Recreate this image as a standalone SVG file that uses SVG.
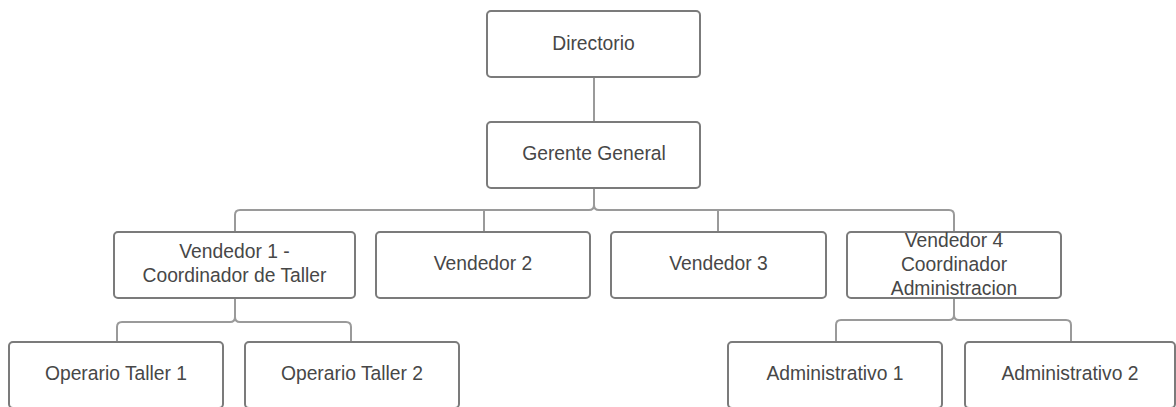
<svg xmlns="http://www.w3.org/2000/svg" width="1176" height="407" viewBox="0 0 1176 407">
<style>
.box{fill:#fff;stroke:#7b7b7b;stroke-width:2}
.t{font-family:"Liberation Sans",Arial,sans-serif;font-size:19.3px;fill:#474747;text-anchor:middle}
.c{fill:none;stroke:#9a9a9a;stroke-width:2}
</style>
<rect width="1176" height="407" fill="#fff"/>
<g id="connectors">
<path class="c" d="M594 77V122"/>
<path class="c" d="M594 188V205Q594 210 589 210H240Q235 210 235 215V232"/>
<path class="c" d="M594 205Q594 210 599 210H949Q954 210 954 215V232"/>
<path class="c" d="M484 210V232"/>
<path class="c" d="M718 210V232"/>
<path class="c" d="M235 298V317Q235 322 230 322H122Q117 322 117 327V342"/>
<path class="c" d="M235 317Q235 322 240 322H346Q351 322 351 327V342"/>
<path class="c" d="M954 298V315Q954 320 949 320H841Q836 320 836 325V342"/>
<path class="c" d="M954 315Q954 320 959 320H1066Q1071 320 1071 325V342"/>
</g>
<g id="directorio"><rect class="box" x="487" y="11" width="213" height="66" rx="4"/><text class="t" x="593.5" y="50">Directorio</text></g>
<g id="gerente"><rect class="box" x="487" y="122" width="213" height="66" rx="4"/><text class="t" x="594" y="160">Gerente General</text></g>
<g id="vendedor1"><rect class="box" x="114" y="232" width="241" height="66" rx="4"/><text class="t" x="234.5" y="258">Vendedor 1 -</text><text class="t" x="234.5" y="282">Coordinador de Taller</text></g>
<g id="vendedor2"><rect class="box" x="376" y="232" width="214" height="66" rx="4"/><text class="t" x="483" y="270">Vendedor 2</text></g>
<g id="vendedor3"><rect class="box" x="611" y="232" width="215" height="66" rx="4"/><text class="t" x="718.5" y="270">Vendedor 3</text></g>
<g id="vendedor4"><rect class="box" x="847" y="232" width="214" height="66" rx="4"/><text class="t" x="954" y="247">Vendedor 4</text><text class="t" x="954" y="271">Coordinador</text><text class="t" x="954" y="295">Administracion</text></g>
<g id="operario1"><rect class="box" x="9" y="342" width="214" height="66" rx="4"/><text class="t" x="116" y="380">Operario Taller 1</text></g>
<g id="operario2"><rect class="box" x="245" y="342" width="214" height="66" rx="4"/><text class="t" x="352" y="380">Operario Taller 2</text></g>
<g id="administrativo1"><rect class="box" x="728" y="342" width="214" height="66" rx="4"/><text class="t" x="835" y="380">Administrativo 1</text></g>
<g id="administrativo2"><rect class="box" x="965" y="342" width="210" height="66" rx="4"/><text class="t" x="1070" y="380">Administrativo 2</text></g>
</svg>
